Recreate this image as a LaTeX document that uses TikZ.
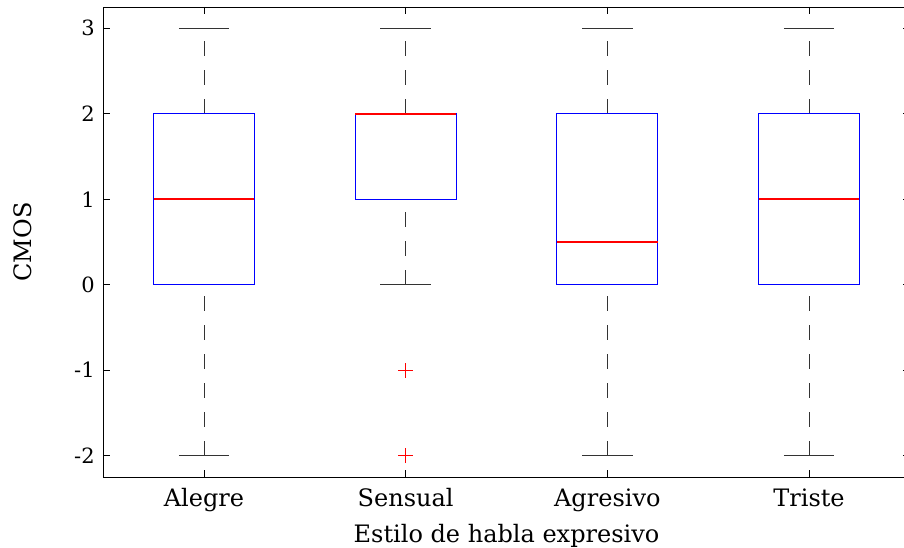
\documentclass[tikz,border=0pt]{standalone}
\usepackage{fontspec}
\setmainfont{DejaVu Serif}
\usetikzlibrary{positioning}

\tikzset{
  boxline/.style={draw=blue, line width=0.9pt},
  medianline/.style={red, line width=1.8pt},
  whisker/.style={black!80, line width=0.9pt, dash pattern=on 15pt off 14pt},
  capline/.style={black!80, line width=0.9pt},
  outlier/.style={draw=red, line width=0.9pt},
  ticklabel/.style={font=\fontsize{21}{25}\selectfont},
  grouplabel/.style={font=\fontsize{24}{28}\selectfont},
}

\begin{document}
\begin{tikzpicture}
        \useasboundingbox (0,0) rectangle (904pt,547pt);
        \clip (0,0) rectangle (904pt,547pt);

        % axes coordinates: x = group, y = score
        \begin{scope}[shift={(2.33pt,262.3pt)}, x=201.67pt, y=85.45pt]
        \coordinate (LL) at (0.5,-2.25);
        \coordinate (UR) at (4.5,3.25);

        % ticks
        \foreach \v in {-2,...,3}{
          \draw[line width=0.9pt] (0.5,\v) -- ++(7pt,0);
          \draw[line width=0.9pt] (4.5,\v) -- ++(-7pt,0);
          \node[ticklabel, left=5pt] (y\v) at (0.5,\v) {\v};
        }
        \foreach \g/\name in {1/Alegre,2/Sensual,3/Agresivo,4/Triste}{
          \draw[line width=0.9pt] (\g,-2.25) -- ++(0,7pt);
          \draw[line width=0.9pt] (\g,3.25) -- ++(0,-7pt);
          \node[grouplabel, anchor=base, yshift=-30pt] (x\g) at (\g,-2.25) {\name};
        }

        % boxes: group/lower/q1/median/q3/upper
        \foreach \g/\lo/\qa/\med/\qb/\hi in {1/-2/0/1/2/3, 2/0/1/2/2/3,
                                             3/-2/0/0.5/2/3, 4/-2/0/1/2/3}{
          \draw[whisker] (\g,\lo) -- (\g,\qa);
          \draw[whisker] (\g,\qb) -- (\g,\hi);
          \draw[capline] (\g-0.125,\lo) -- (\g+0.125,\lo);
          \draw[capline] (\g-0.125,\hi) -- (\g+0.125,\hi);
          \draw[boxline] (\g-0.25,\qa) rectangle (\g+0.25,\qb);
          \draw[medianline] (\g-0.25,\med) -- (\g+0.25,\med);
        }

        % outliers of Sensual
        \coordinate (outa) at (2,-1);
        \coordinate (outb) at (2,-2);
        \foreach \pt in {outa,outb}{
          \draw[outlier] ([xshift=-7.5pt]\pt) -- ([xshift=7.5pt]\pt);
          \draw[outlier] ([yshift=-7.5pt]\pt) -- ([yshift=7.5pt]\pt);
        }

        \draw[line width=0.9pt] (LL) rectangle (UR);

        % axis labels
        \node[grouplabel, anchor=base, yshift=-66pt] (xlab) at (2.5,-2.25)
          {Estilo de habla expresivo};
        \node[grouplabel, rotate=90] (ylab) at (0.1025,0.5) {CMOS};
        \end{scope}
\end{tikzpicture}
\end{document}
